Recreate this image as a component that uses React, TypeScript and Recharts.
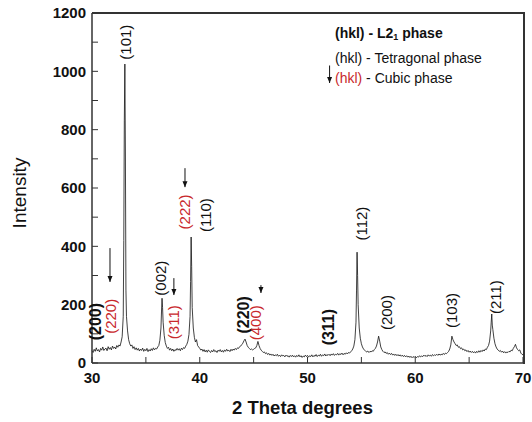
import React from 'react';
import { LineChart, Line, XAxis, YAxis, ReferenceDot, ReferenceLine } from 'recharts';

const FONT = '"Liberation Sans", Arial, Helvetica, sans-serif';
const AXIS = '#333333';
const RED = '#c8282c';

const xTicks = [30, 35, 40, 45, 50, 55, 60, 65, 70];
const xTickLabels = [30, 40, 50, 60, 70];
const yTicks = [0, 100, 200, 300, 400, 500, 600, 700, 800, 900, 1000, 1100, 1200];
const yTickLabels = [0, 200, 400, 600, 800, 1000, 1200];

// [2theta, intensity]
const scan: [number, number][] = [
  [30.0, 42], [30.1, 36], [30.2, 47], [30.3, 40], [30.4, 52], [30.5, 41], [30.6, 46], [30.7, 38], [30.8, 50], [30.9, 44],
  [31.0, 55], [31.1, 43], [31.2, 48], [31.3, 51], [31.4, 42], [31.5, 56], [31.6, 47], [31.7, 53], [31.8, 45], [31.9, 58],
  [32.0, 50], [32.1, 55], [32.2, 48], [32.3, 60], [32.4, 54], [32.5, 62], [32.6, 58], [32.7, 72], [32.8, 90], [32.9, 160],
  [32.95, 420], [33.0, 830], [33.05, 1025], [33.1, 720], [33.15, 250], [33.2, 160], [33.3, 110], [33.4, 80], [33.5, 66],
  [33.6, 58], [33.7, 62], [33.8, 50], [33.9, 56], [34.0, 46], [34.1, 52], [34.2, 44], [34.3, 50], [34.4, 41], [34.5, 48],
  [34.6, 43], [34.7, 51], [34.8, 40], [34.9, 47], [35.0, 42], [35.1, 50], [35.2, 39], [35.3, 46], [35.4, 41], [35.5, 49],
  [35.6, 43], [35.7, 52], [35.8, 45], [35.9, 50], [36.0, 48], [36.1, 55], [36.2, 60], [36.3, 78], [36.4, 120], [36.45, 175],
  [36.5, 222], [36.55, 190], [36.6, 140], [36.7, 95], [36.8, 70], [36.9, 58], [37.0, 50], [37.1, 54], [37.2, 44], [37.3, 50],
  [37.4, 42], [37.5, 48], [37.6, 40], [37.7, 46], [37.8, 43], [37.9, 50], [38.0, 44], [38.1, 49], [38.2, 42], [38.3, 51],
  [38.4, 46], [38.5, 53], [38.6, 50], [38.7, 58], [38.8, 64], [38.9, 75], [39.0, 98], [39.1, 160], [39.15, 280], [39.2, 432],
  [39.25, 330], [39.3, 190], [39.4, 120], [39.5, 88], [39.6, 72], [39.7, 80], [39.8, 60], [39.9, 55], [40.0, 50], [40.1, 44],
  [40.2, 48], [40.3, 40], [40.4, 46], [40.5, 38], [40.6, 44], [40.7, 37], [40.8, 45], [40.9, 40], [41.0, 36], [41.1, 43],
  [41.2, 38], [41.3, 46], [41.4, 39], [41.5, 42], [41.6, 36], [41.7, 44], [41.8, 40], [41.9, 46], [42.0, 38], [42.1, 43],
  [42.2, 37], [42.3, 45], [42.4, 40], [42.5, 47], [42.6, 41], [42.7, 44], [42.8, 39], [42.9, 47], [43.0, 42], [43.1, 48],
  [43.2, 44], [43.3, 50], [43.4, 46], [43.5, 52], [43.6, 50], [43.7, 56], [43.8, 58], [43.9, 63], [44.0, 68], [44.1, 76],
  [44.2, 82], [44.3, 72], [44.4, 60], [44.5, 54], [44.6, 50], [44.7, 46], [44.8, 48], [44.9, 45], [45.0, 47], [45.1, 50],
  [45.2, 52], [45.3, 60], [45.4, 74], [45.5, 60], [45.6, 50], [45.7, 44], [45.8, 40], [45.9, 36], [46.0, 38], [46.1, 32],
  [46.2, 35], [46.3, 29], [46.4, 33], [46.5, 27], [46.6, 31], [46.7, 26], [46.8, 30], [46.9, 24], [47.0, 28], [47.1, 25],
  [47.2, 30], [47.3, 23], [47.4, 27], [47.5, 22], [47.6, 28], [47.7, 24], [47.8, 26], [47.9, 21], [48.0, 27], [48.1, 23],
  [48.2, 25], [48.3, 20], [48.4, 26], [48.5, 22], [48.6, 27], [48.7, 21], [48.8, 25], [48.9, 20], [49.0, 26], [49.1, 22],
  [49.2, 28], [49.3, 21], [49.4, 25], [49.5, 19], [49.6, 24], [49.7, 21], [49.8, 27], [49.9, 22], [50.0, 26], [50.1, 20],
  [50.2, 25], [50.3, 22], [50.4, 28], [50.5, 21], [50.6, 26], [50.7, 23], [50.8, 29], [50.9, 22], [51.0, 27], [51.1, 24],
  [51.2, 30], [51.3, 23], [51.4, 28], [51.5, 25], [51.6, 31], [51.7, 24], [51.8, 29], [51.9, 26], [52.0, 30], [52.1, 25],
  [52.2, 31], [52.3, 27], [52.4, 32], [52.5, 26], [52.6, 30], [52.7, 28], [52.8, 33], [52.9, 27], [53.0, 32], [53.1, 29],
  [53.2, 34], [53.3, 28], [53.4, 33], [53.5, 30], [53.6, 35], [53.7, 31], [53.8, 36], [53.9, 34], [54.0, 38], [54.1, 42],
  [54.2, 48], [54.3, 58], [54.4, 80], [54.5, 140], [54.55, 250], [54.6, 380], [54.65, 300], [54.7, 200], [54.8, 120],
  [54.9, 85], [55.0, 66], [55.1, 55], [55.2, 48], [55.3, 44], [55.4, 40], [55.5, 38], [55.6, 41], [55.7, 36], [55.8, 40],
  [55.9, 38], [56.0, 42], [56.1, 40], [56.2, 46], [56.3, 50], [56.4, 58], [56.5, 72], [56.6, 92], [56.7, 75], [56.8, 55],
  [56.9, 46], [57.0, 40], [57.1, 36], [57.2, 38], [57.3, 33], [57.4, 36], [57.5, 30], [57.6, 34], [57.7, 29], [57.8, 33],
  [57.9, 27], [58.0, 31], [58.1, 26], [58.2, 30], [58.3, 25], [58.4, 29], [58.5, 24], [58.6, 28], [58.7, 23], [58.8, 27],
  [58.9, 22], [59.0, 26], [59.1, 21], [59.2, 25], [59.3, 20], [59.4, 24], [59.5, 19], [59.6, 23], [59.7, 18], [59.8, 22],
  [59.9, 19], [60.0, 23], [60.1, 18], [60.2, 22], [60.3, 20], [60.4, 25], [60.5, 21], [60.6, 24], [60.7, 22], [60.8, 27],
  [60.9, 23], [61.0, 26], [61.1, 22], [61.2, 28], [61.3, 24], [61.4, 27], [61.5, 23], [61.6, 29], [61.7, 25], [61.8, 28],
  [61.9, 26], [62.0, 30], [62.1, 26], [62.2, 31], [62.3, 27], [62.4, 30], [62.5, 28], [62.6, 33], [62.7, 29], [62.8, 34],
  [62.9, 32], [63.0, 36], [63.1, 40], [63.2, 48], [63.3, 62], [63.4, 92], [63.5, 80], [63.6, 72], [63.7, 66], [63.8, 60],
  [63.9, 62], [64.0, 54], [64.1, 56], [64.2, 49], [64.3, 52], [64.4, 45], [64.5, 48], [64.6, 42], [64.7, 45], [64.8, 39],
  [64.9, 43], [65.0, 37], [65.1, 41], [65.2, 36], [65.3, 40], [65.4, 35], [65.5, 39], [65.6, 34], [65.7, 40], [65.8, 36],
  [65.9, 42], [66.0, 37], [66.1, 43], [66.2, 39], [66.3, 45], [66.4, 41], [66.5, 48], [66.6, 46], [66.7, 54], [66.8, 60],
  [66.9, 75], [67.0, 110], [67.05, 140], [67.1, 168], [67.15, 130], [67.2, 115], [67.3, 85], [67.4, 66], [67.5, 55],
  [67.6, 48], [67.7, 44], [67.8, 40], [67.9, 43], [68.0, 37], [68.1, 41], [68.2, 35], [68.3, 39], [68.4, 34], [68.5, 38],
  [68.6, 36], [68.7, 40], [68.8, 38], [68.9, 44], [69.0, 42], [69.1, 50], [69.2, 56], [69.3, 64], [69.4, 52], [69.5, 46],
  [69.6, 42], [69.7, 45], [69.8, 34], [69.9, 30], [70.0, 28],
];

// peak annotations: text, label centre (2theta, intensity), phase kind
const peakTexts = ['(200)', '(220)', '(101)', '(002)', '(311)', '(222)', '(110)', '(220)', '(400)', '(311)', '(112)', '(200)', '(103)', '(211)'];
const peakX = [30.37, 31.7, 33.15, 36.4, 37.55, 38.63, 40.58, 44.1, 45.2, 51.95, 55.05, 57.37, 63.4, 67.48];
const peakY = [142, 160, 1100, 291, 140, 518, 507, 165, 138, 123, 478, 173, 180, 226];
const peakKind = ['L21', 'cubic', 'tet', 'tet', 'cubic', 'cubic', 'tet', 'L21', 'cubic', 'L21', 'tet', 'tet', 'tet', 'tet'];

// arrows: x, top, tip
const arrowX = [31.67, 37.6, 38.63, 45.68, 52.05];
const arrowTop = [394, 291, 668, 267, 1020];
const arrowTip = [278, 233, 603, 240, 960];

// legend lines
const legendX = 52.55;
const legendY = [1130, 1046, 977];

const xMin = 30;
const xMax = 70;
const yMin = 0;
const yMax = 1200;

const data = scan.map(([t, i]) => ({ t, i }));

const PeakLabel = (props: any) => {
  const vb = props.viewBox || {};
  const cx = (vb.x || 0) + (vb.width || 0) / 2;
  const cy = (vb.y || 0) + (vb.height || 0) / 2;
  const kind = props.kind;
  const bold = kind === 'L21';
  return (
    <text
      x={cx}
      y={cy}
      transform={`rotate(-90 ${cx} ${cy})`}
      textAnchor="middle"
      dominantBaseline="central"
      fill={kind === 'cubic' ? RED : '#111'}
      fontWeight={bold ? 'bold' : 'normal'}
      fontSize={bold ? 16 : 15}
      fontFamily={FONT}
    >
      {props.text}
    </text>
  );
};

const LegendLine = (props: any) => {
  const vb = props.viewBox || {};
  const x = (vb.x || 0) + (vb.width || 0) / 2;
  const y = (vb.y || 0) + (vb.height || 0) / 2;
  const common = { x, y, dominantBaseline: 'central' as const, fontFamily: FONT, fontSize: 14, textAnchor: 'start' as const };
  if (props.row === 0) {
    return (
      <text {...common} fill="#111" fontWeight="bold">
        (hkl) - L2<tspan fontSize={9} dy={4}>1</tspan><tspan dy={-4}> phase</tspan>
      </text>
    );
  }
  if (props.row === 1) {
    return <text {...common} fill="#111">(hkl) - Tetragonal phase</text>;
  }
  return (
    <text {...common} fill="#111">
      <tspan fill={RED}>(hkl)</tspan> - Cubic phase
    </text>
  );
};

const XTitle = (props: any) => {
  const vb = props.viewBox || {};
  const cx = vb.x + vb.width / 2 - 5;
  return (
    <text x={cx} y={vb.y + 51} textAnchor="middle" fontFamily={FONT} fontWeight="bold" fontSize={18.5} fill="#111">
      2 Theta degrees
    </text>
  );
};

const YTitle = (props: any) => {
  const vb = props.viewBox || {};
  const cx = vb.x + 19;
  const cy = vb.y + vb.height / 2 + 5;
  return (
    <text x={cx} y={cy} transform={`rotate(-90 ${cx} ${cy})`} textAnchor="middle" dominantBaseline="central" fontFamily={FONT} fontSize={19} fill="#111">
      Intensity
    </text>
  );
};

const arrowHead = (p: any) => (
  <path d={`M${p.cx - 2.5},${p.cy - 6} L${p.cx + 2.5},${p.cy - 6} L${p.cx},${p.cy} Z`} fill="#111" />
);

export default function App() {
  const tickStyle = { fontFamily: FONT, fontWeight: 'bold' as const, fontSize: 15, fill: '#111' };
  return (
    <div style={{ position: 'absolute', left: 0, top: 0, width: 532, height: 422, background: '#fff' }}>
      <LineChart width={532} height={422} data={data} margin={{ top: 13, right: 9, left: 0, bottom: 0 }}>
        <XAxis
          dataKey="t"
          type="number"
          domain={[xMin, xMax]}
          ticks={xTicks}
          interval={0}
          height={59}
          tickSize={-6}
          tickMargin={15}
          tickFormatter={(v: number) => (xTickLabels.includes(v) ? String(v) : '')}
          tick={tickStyle}
          axisLine={{ stroke: AXIS, strokeWidth: 1.5 }}
          tickLine={{ stroke: AXIS, strokeWidth: 1 }}
          label={<XTitle />}
        />
        <YAxis
          type="number"
          domain={[yMin, yMax]}
          ticks={yTicks}
          interval={0}
          width={92}
          tickSize={-6}
          tickMargin={12}
          tickFormatter={(v: number) => (yTickLabels.includes(v) ? String(v) : '')}
          tick={tickStyle}
          axisLine={{ stroke: AXIS, strokeWidth: 1.5 }}
          tickLine={{ stroke: AXIS, strokeWidth: 1 }}
          label={<YTitle />}
        />
        <Line type="linear" dataKey="i" stroke="#111" strokeWidth={0.8} dot={false} isAnimationActive={false} />
        {arrowX.map((x, k) => (
          <ReferenceLine
            key={`al${k}`}
            segment={[{ x, y: arrowTop[k] }, { x, y: arrowTip[k] }]}
            stroke="#111"
            strokeWidth={1}
          />
        ))}
        {arrowX.map((x, k) => (
          <ReferenceDot key={`ah${k}`} x={x} y={arrowTip[k]} r={3} shape={arrowHead} />
        ))}
        {peakTexts.map((t, k) => (
          <ReferenceDot
            key={`pk${k}`}
            x={peakX[k]}
            y={peakY[k]}
            r={0}
            fill="none"
            stroke="none"
            label={<PeakLabel text={t} kind={peakKind[k]} />}
          />
        ))}
        {legendY.map((y, k) => (
          <ReferenceDot key={`lg${k}`} x={legendX} y={y} r={0} fill="none" stroke="none" label={<LegendLine row={k} />} />
        ))}
      </LineChart>
      <div
        style={{
          position: 'absolute',
          left: 92,
          top: 12,
          width: 433,
          height: 352,
          boxSizing: 'border-box',
          borderTop: `2px solid ${AXIS}`,
          borderRight: `2px solid ${AXIS}`,
          pointerEvents: 'none',
          zIndex: 5,
        }}
      />
    </div>
  );
}
